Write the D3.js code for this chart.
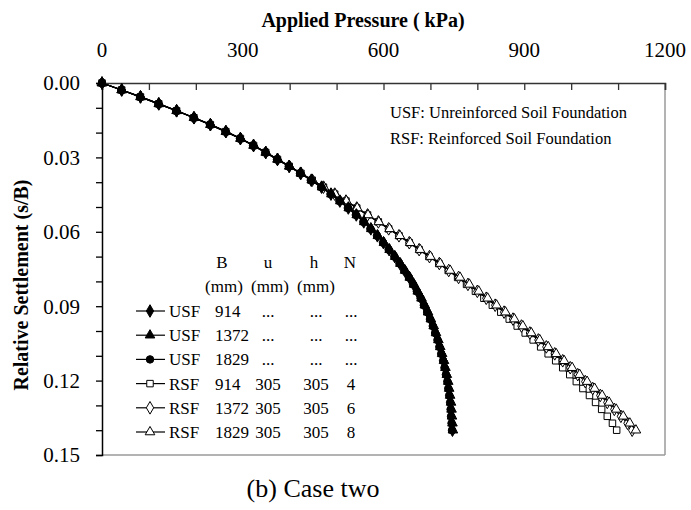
<!DOCTYPE html>
<html>
<head>
<meta charset="utf-8">
<script src="https://cdn.jsdelivr.net/npm/d3@7"></script>
<style>
  html, body { margin: 0; padding: 0; background: #fff; }
  svg { display: block; }
  svg text { font-family: "Liberation Serif", "Times New Roman", serif; }
</style>
</head>
<body>
<svg id="chart" width="691" height="510"></svg>
<script>
// Relative settlement s/B shared by all load–settlement curves
const settlement = [0, 0.0028, 0.0056, 0.0084, 0.0112, 0.014, 0.0168, 0.0196, 0.0224, 0.0252,
  0.028, 0.0308, 0.0336, 0.0364, 0.0392, 0.042, 0.0448, 0.0476, 0.0504, 0.0532,
  0.056, 0.0588, 0.0616, 0.0644, 0.0672, 0.07, 0.0728, 0.0756, 0.0784, 0.0812,
  0.084, 0.0868, 0.0896, 0.0924, 0.0952, 0.098, 0.1008, 0.1036, 0.1064, 0.1092,
  0.112, 0.1148, 0.1176, 0.1204, 0.1232, 0.126, 0.1288, 0.1316, 0.1344, 0.1372, 0.14];

// Applied pressure (kPa) for each foundation
const usf914 = [0, 42, 82, 121, 159, 196, 231, 264, 295, 323, 349, 374, 399, 423, 446, 468, 488, 507, 525, 542,
  558, 573, 587, 600, 612, 624, 635, 645, 655, 664, 672, 680, 687, 694, 700, 706, 711, 716, 720, 724,
  728, 731, 734, 737, 739, 741, 743, 744, 745, 746, 747];
const usf1372 = [0, 42, 83, 122, 160, 197, 232, 265, 296, 324, 350, 375, 400, 424, 447, 469, 489, 508, 526, 543,
  559, 574, 588, 601, 613, 625, 636, 646, 656, 665, 673, 681, 688, 695, 701, 707, 712, 717, 721, 725,
  729, 732, 735, 738, 740, 742, 744, 745, 746, 747, 748];
const usf1829 = [0, 41, 81, 120, 158, 195, 230, 263, 294, 322, 348, 373, 398, 422, 445, 467, 487, 506, 524, 541,
  557, 572, 586, 599, 611, 623, 634, 644, 654, 663, 671, 679, 686, 693, 699, 705, 710, 715, 719, 723,
  727, 730, 733, 736, 738, 740, 742, 743, 744, 745, 746];
const rsf914 = [0, 42, 82, 121, 159, 196, 231, 264, 295, 323, 349, 374, 399, 424, 448, 472, 496, 520, 543, 566,
  589, 611, 633, 655, 676, 697, 718, 738, 758, 777, 796, 814, 832, 850, 868, 885, 902, 919, 935, 951,
  967, 982, 997, 1011, 1025, 1039, 1052, 1065, 1077, 1088, 1097];
const rsf1372 = [0, 42, 82, 121, 159, 196, 231, 264, 295, 323, 349, 374, 399, 424, 448, 472, 496, 520, 543, 566,
  589, 611, 633, 655, 676, 698, 719, 739, 760, 780, 800, 819, 838, 857, 876, 894, 912, 930, 947, 965,
  982, 998, 1014, 1030, 1046, 1062, 1077, 1092, 1106, 1120, 1130];
const rsf1829 = [0, 42, 82, 121, 159, 196, 231, 264, 295, 323, 349, 374, 399, 424, 449, 473, 497, 521, 544, 567,
  590, 613, 635, 657, 678, 700, 721, 742, 763, 783, 803, 822, 841, 860, 879, 897, 915, 933, 951, 968,
  985, 1002, 1018, 1034, 1050, 1066, 1081, 1096, 1111, 1125, 1138];

// Legend table columns
const legendType = ["USF", "USF", "USF", "RSF", "RSF", "RSF"];
const legendB = ["914", "1372", "1829", "914", "1372", "1829"];
const legendU = ["...", "...", "...", "305", "305", "305"];
const legendH = ["...", "...", "...", "305", "305", "305"];
const legendN = ["...", "...", "...", "4", "6", "8"];

// Axis ticks
const pressureTicks = [0, 300, 600, 900, 1200];
const settlementTicks = [0, 0.03, 0.06, 0.09, 0.12, 0.15];

const series = [
  { values: usf914, symbol: d3.symbolDiamond, size: 46, filled: true },
  { values: usf1372, symbol: d3.symbolTriangle, size: 40, filled: true },
  { values: usf1829, symbol: d3.symbolCircle, size: 44, filled: true },
  { values: rsf914, symbol: d3.symbolSquare, size: 42, filled: false },
  { values: rsf1372, symbol: d3.symbolDiamond, size: 46, filled: false },
  { values: rsf1829, symbol: d3.symbolTriangle, size: 40, filled: false }
];

const svg = d3.select("#chart");
const plotLeft = 102, plotRight = 665, plotTop = 83, plotBottom = 455;

const x = d3.scaleLinear().domain([0, 1200]).range([plotLeft, plotRight]);
const y = d3.scaleLinear().domain([0, 0.15]).range([plotTop, plotBottom]);

// Plot frame: grey right and bottom edges
svg.append("line").attr("x1", plotRight).attr("x2", plotRight).attr("y1", plotTop).attr("y2", plotBottom)
  .attr("stroke", "#9a9a9a").attr("stroke-width", 1.5);
svg.append("line").attr("x1", plotLeft).attr("x2", plotRight).attr("y1", plotBottom).attr("y2", plotBottom)
  .attr("stroke", "#9a9a9a").attr("stroke-width", 1.5);

// Top (pressure) axis, ticks pointing into the plot
const xAxis = svg.append("g").attr("transform", `translate(0,${plotTop})`)
  .call(d3.axisBottom(x).tickValues(d3.range(0, 1201, 100)).tickSize(7).tickFormat(""));
xAxis.select(".domain").attr("stroke", "#333").attr("stroke-width", 1.5);
xAxis.selectAll(".tick line").attr("stroke", "#333").attr("stroke-width", 1.3);

svg.append("g").selectAll("text").data(pressureTicks).join("text")
  .attr("x", d => x(d)).attr("y", 57)
  .attr("text-anchor", "middle").attr("font-size", 21).text(d => d);

svg.append("text").attr("x", 363).attr("y", 27).attr("text-anchor", "middle")
  .attr("font-size", 20).attr("font-weight", "bold").text("Applied Pressure ( kPa)");

// Left (settlement) axis
const yAxis = svg.append("g").attr("transform", `translate(${plotLeft},0)`)
  .call(d3.axisLeft(y).tickValues(d3.range(0, 16).map(i => i * 0.01)).tickSize(6).tickFormat(""));
yAxis.select(".domain").attr("stroke", "#000").attr("stroke-width", 1.5);
yAxis.selectAll(".tick line").attr("stroke", "#000").attr("stroke-width", 1.3);

svg.append("g").selectAll("text").data(settlementTicks).join("text")
  .attr("x", 80).attr("y", d => y(d)).attr("dy", "0.35em")
  .attr("text-anchor", "end").attr("font-size", 21).text(d => d3.format(".2f")(d));

svg.append("text").attr("transform", "translate(28,285) rotate(-90)")
  .attr("text-anchor", "middle").attr("font-size", 20).attr("font-weight", "bold")
  .text("Relative Settlement (s/B)");

// Curves: reinforced first, unreinforced drawn over them
const line = d3.line().x(d => x(d[0])).y(d => y(d[1]));
const plot = svg.append("g");
const drawOrder = [3, 4, 5, 0, 1, 2];
drawOrder.forEach(k => {
  const s = series[k];
  const pts = s.values.map((p, i) => [p, settlement[i]]);
  plot.append("path").datum(pts).attr("d", line)
    .attr("fill", "none").attr("stroke", "#000").attr("stroke-width", 1.2);
  plot.append("g").selectAll("path").data(pts).join("path")
    .attr("transform", d => `translate(${x(d[0])},${y(d[1])})`)
    .attr("d", d3.symbol().type(s.symbol).size(s.size))
    .attr("fill", s.filled ? "#000" : "#fff")
    .attr("stroke", "#000").attr("stroke-width", 1);
});

// Notes
svg.append("text").attr("x", 390).attr("y", 118).attr("font-size", 16.5)
  .text("USF: Unreinforced Soil Foundation");
svg.append("text").attr("x", 390).attr("y", 144).attr("font-size", 16.5)
  .text("RSF: Reinforced Soil Foundation");

// Legend table
const lg = svg.append("g").attr("font-size", 17);
lg.append("text").attr("x", 222).attr("y", 268).attr("text-anchor", "middle").text("B");
lg.append("text").attr("x", 268).attr("y", 268).attr("text-anchor", "middle").text("u");
lg.append("text").attr("x", 314).attr("y", 268).attr("text-anchor", "middle").text("h");
lg.append("text").attr("x", 350).attr("y", 268).attr("text-anchor", "middle").text("N");
[224, 270, 316].forEach(cx => {
  lg.append("text").attr("x", cx).attr("y", 292).attr("text-anchor", "middle").text("(mm)");
});

const rowY = i => 317 + i * 24.2;
legendType.forEach((t, i) => {
  const cy = rowY(i) - 6;
  lg.append("line").attr("x1", 136).attr("x2", 165).attr("y1", cy).attr("y2", cy)
    .attr("stroke", "#000").attr("stroke-width", 1.2);
  lg.append("path").attr("transform", `translate(150,${cy})`)
    .attr("d", d3.symbol().type(series[i].symbol).size(series[i].size))
    .attr("fill", series[i].filled ? "#000" : "#fff").attr("stroke", "#000");
  lg.append("text").attr("x", 169).attr("y", rowY(i)).text(t);
  lg.append("text").attr("x", 215).attr("y", rowY(i)).text(legendB[i]);
  lg.append("text").attr("x", 268).attr("y", rowY(i)).attr("text-anchor", "middle").text(legendU[i]);
  lg.append("text").attr("x", 316).attr("y", rowY(i)).attr("text-anchor", "middle").text(legendH[i]);
  lg.append("text").attr("x", 351).attr("y", rowY(i)).attr("text-anchor", "middle").text(legendN[i]);
});

// Caption
svg.append("text").attr("x", 313).attr("y", 497).attr("text-anchor", "middle")
  .attr("font-size", 26).text("(b) Case two");
</script>
</body>
</html>
